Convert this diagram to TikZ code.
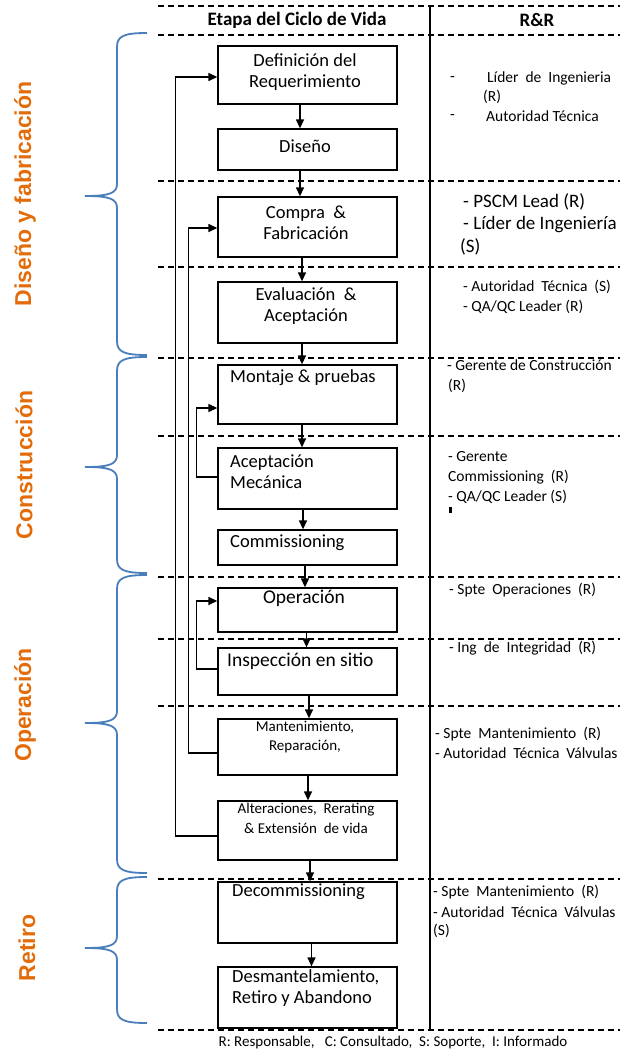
\documentclass[tikz,border=0pt]{standalone}
\usepackage{fontspec}
\setmainfont{Carlito}
\newfontfamily\lblfont{Liberation Sans}
\usetikzlibrary{arrows.meta}
\definecolor{orng}{RGB}{227,108,10}
\definecolor{brcblue}{RGB}{74,126,187}
\newcommand\mybrc[3]{\draw[brc] (147,#1) .. controls (124,#1) and (117,#1+3) .. (117,#1+14) -- (117,#2-12) .. controls (117,#2-3) and (110,#2) .. (85,#2) .. controls (110,#2) and (117,#2+3) .. (117,#2+12) -- (117,#3-14) .. controls (117,#3-3) and (124,#3) .. (147,#3);}
\begin{document}
\begin{tikzpicture}[x=1pt,y=-1pt,
  box/.style={draw, line width=1.3pt, minimum width=179pt, inner sep=0pt},
  btxt/.style={font=\fontsize{18.5}{21}\selectfont, align=center, inner sep=0pt},
  stxt/.style={font=\fontsize{15}{19.5}\selectfont, align=center, inner sep=0pt},
  arr/.style={line width=1.3pt, -{Triangle[length=9pt,width=8pt]}},
  dsh/.style={line width=1.2pt, dash pattern=on 6pt off 4pt},
  rr/.style={font=\fontsize{15.5}{18}\selectfont, anchor=west, inner sep=0pt},
  rrb/.style={font=\fontsize{19}{22}\selectfont, anchor=west, inner sep=0pt},
  hdr/.style={font=\fontsize{19}{22}\selectfont\bfseries, inner sep=0pt},
  lbl/.style={font=\lblfont\fontsize{23}{26}\selectfont\bfseries, text=orng, rotate=90, inner sep=0pt},
  brc/.style={draw=brcblue, line width=1.8pt}
]
\useasboundingbox (0,0) rectangle (620,1052);
\clip (0,0) rectangle (620,1052);

% dashed separators
\foreach \yy in {6,35,181,267,358,436,577,639,706,879,1030}
  \draw[dsh] (158,\yy) -- (620,\yy);
% vertical divider
\draw[line width=1.4pt] (430,5) -- (430,1030);

% headers
\node[hdr] (h1) at (297,20) {Etapa del Ciclo de Vida};
\node[hdr] (h2) at (537,20) {R\&R};

% boxes
\node[box, minimum height=58pt] (def) at (307.5,75) {};
\node[box, minimum height=41pt] (dis) at (307.5,149.5) {};
\node[box, minimum height=60pt] (com) at (307.5,227) {};
\node[box, minimum height=61pt] (eva) at (307.5,312.5) {};
\node[box, minimum height=59pt] (mon) at (307.5,394.5) {};
\node[box, minimum height=61pt] (acm) at (307.5,478.5) {};
\node[box, minimum height=35pt] (cmm) at (307.5,547.5) {};
\node[box, minimum height=44pt] (ope) at (307.5,610) {};
\node[box, minimum height=47pt] (ins) at (307.5,671.5) {};
\node[box, minimum height=56pt] (man) at (307.5,747) {};
\node[box, minimum height=59pt] (alt) at (307.5,830.5) {};
\node[box, minimum height=61pt] (dec) at (307.5,912.5) {};
\node[box, minimum height=61pt] (des) at (307.5,997.5) {};

% box texts
\node[btxt] (def-t) at (305,72.5) {Definición del\\Requerimiento};
\node[btxt] (dis-t) at (305,146) {Diseño};
\node[btxt] (com-t) at (306,222.5) {Compra\ \ \&\\Fabricación};
\node[btxt] (eva-t) at (306,306) {Evaluación\ \ \&\\Aceptación};
\node[btxt, anchor=west] (mon-t) at (230,378) {Montaje \& pruebas};
\node[btxt, anchor=west, align=left] (acm-t) at (230,472) {Aceptación\\Mecánica};
\node[btxt, anchor=west] (cmm-t) at (230,543) {Commissioning};
\node[btxt, font=\fontsize{19.5}{22}\selectfont] (ope-t) at (304,598) {Operación};
\node[btxt, anchor=west, font=\fontsize{19.5}{22}\selectfont] (ins-t) at (227,661) {Inspección en sitio};
\node[stxt] (man-t) at (305,737) {Mantenimiento,\\Reparación,};
\node[stxt] (alt-t) at (306,818.5) {Alteraciones,\ \ Rerating\\\& Extensión\ \ de vida};
\node[btxt, anchor=west] (dec-t) at (232,892) {Decommissioning};
\node[btxt, anchor=west, align=left] (des-t) at (232,988.5) {Desmantelamiento,\\Retiro y Abandono};

% main flow arrows
\draw[arr] ([xshift=-7.5pt]def.south) -- ([xshift=-7.5pt]dis.north);
\draw[arr] ([xshift=-7.5pt]dis.south) -- ([xshift=-7.5pt]com.north);
\draw[arr] ([xshift=-5.5pt]com.south) -- ([xshift=-5.5pt]eva.north);
\draw[arr] ([xshift=-5.5pt]eva.south) -- ([xshift=-5.5pt]mon.north);
\draw[arr] ([xshift=-5.5pt]mon.south) -- ([xshift=-5.5pt]acm.north);
\draw[arr] ([xshift=-4.5pt]acm.south) -- ([xshift=-4.5pt]cmm.north);
\draw[arr] ([xshift=-2.5pt]cmm.south) -- ([xshift=-2.5pt]ope.north);
\draw[arr] ([xshift=-1pt]ope.south) -- ([xshift=-1pt]ins.north);
\draw[arr] ([xshift=1.5pt]ins.south) -- ([xshift=1.5pt]man.north);
\draw[arr] ([xshift=0.5pt]man.south) -- ([xshift=0.5pt]alt.north);
\draw[arr] ([xshift=2.5pt]alt.south) -- ([xshift=2.5pt]dec.north);
\draw[arr] ([xshift=4pt]dec.south) -- ([xshift=4pt]des.north);

% feedback loops
\draw[arr] ([yshift=-5.5pt]alt.west) -- ++(-42,0) |- ([yshift=-2pt]def.west);
\draw[arr] ([yshift=-6pt]man.west) -- ++(-29,0) |- ([yshift=-1pt]com.west);
\draw[arr] ([yshift=1.5pt]acm.west) -- ++(-21,0) |- ([yshift=-13.5pt]mon.west);
\draw[arr] ([yshift=2.5pt]ins.west) -- ++(-21,0) |- ([yshift=9pt]ope.west);

% R&R column
\node[rr] (r1a) at (450,79) {-};
\node[rr] (r1b) at (487,78) {Líder\ \ de\ \ Ingenieria};
\node[rr] (r1c) at (483,97) {(R)};
\node[rr] (r1d) at (450,117) {-};
\node[rr] (r1e) at (486,116) {Autoridad Técnica};

\node[rrb] (r2a) at (463,202) {- PSCM Lead (R)};
\node[rrb] (r2b) at (463,225) {- Líder de Ingeniería};
\node[rrb] (r2c) at (460,247) {(S)};

\node[rr] (r3a) at (463,287) {- Autoridad\ \ Técnica\ \ (S)};
\node[rr] (r3b) at (463,307) {- QA/QC Leader (R)};

\node[rr] (r4a) at (447,365) {- Gerente de Construcción};
\node[rr] (r4b) at (448,386) {(R)};

\node[rr] (r5a) at (448,457) {- Gerente};
\node[rr] (r5b) at (448,477) {Commissioning\ \ (R)};
\node[rr] (r5c) at (448,497) {- QA/QC Leader (S)};
\fill (449,507) rectangle (451.5,513);

\node[rr] (r6a) at (449,590) {- Spte\ \ Operaciones\ \ (R)};
\node[rr] (r7a) at (449,648) {- Ing\ \ de\ \ Integridad\ \ (R)};

\node[rr] (r8a) at (435,734) {- Spte\ \ Mantenimiento\ \ (R)};
\node[rr] (r8b) at (435,753) {- Autoridad\ \ Técnica\ \ Válvulas};

\node[rr] (r9a) at (433,892) {- Spte\ \ Mantenimiento\ \ (R)};
\node[rr] (r9b) at (433,912) {- Autoridad\ \ Técnica\ \ Válvulas};
\node[rr] (r9c) at (433,931) {(S)};

% footer
\node[font=\fontsize{15}{17}\selectfont, inner sep=0pt] (foot) at (393,1042) {R: Responsable,\ \ \ C: Consultado,\ \ S: Soporte,\ \ I: Informado};

% phase braces
\mybrc{33}{196}{355}
\mybrc{357}{467}{573}
\mybrc{575}{723}{873}
\mybrc{877}{948}{1023}

% phase labels
\node[lbl] (l1) at (25,194) {Diseño y fabricación};
\node[lbl] (l2) at (24,465) {Construcción};
\node[lbl] (l3) at (25,705) {Operación};
\node[lbl] (l4) at (27,948) {Retiro};
\end{tikzpicture}
\end{document}
